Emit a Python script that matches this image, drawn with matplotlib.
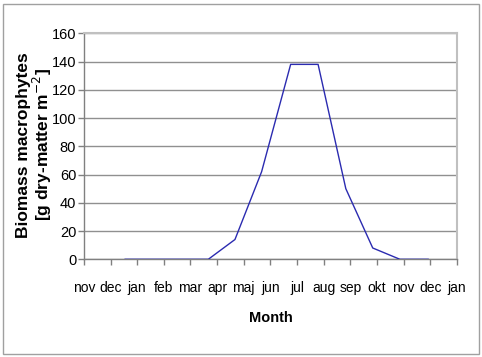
import matplotlib.pyplot as plt
from matplotlib.patches import Rectangle

# Month tick labels (one per tick on the category axis)
months = ['nov', 'dec', 'jan', 'feb', 'mar', 'apr', 'maj', 'jun',
          'jul', 'aug', 'sep', 'okt', 'nov', 'dec', 'jan']

# Sampling positions (in month units from the first tick) and biomass
sample_pos = [1.55, 2.6, 3.62, 4.67, 5.67, 6.67, 7.76, 8.79, 9.83, 10.84, 11.86, 12.92]
biomass = [0, 0, 0, 0, 14, 62, 138, 138, 50, 8, 0, 0]

yticks = [0, 20, 40, 60, 80, 100, 120, 140, 160]

plt.rcParams['font.family'] = ['Liberation Sans', 'DejaVu Sans']

fig = plt.figure(figsize=(4.82, 3.57), dpi=100)
# outer chart border
fig.patches.append(Rectangle((0.006, 0.008), 0.988, 0.982, transform=fig.transFigure,
                             facecolor='none', edgecolor='#a0a0a0', linewidth=1.0, zorder=-1))

ax = fig.add_axes([0.174, 0.2737, 0.774, 0.633])
ax.plot(sample_pos, biomass, color='#2b2bb0', linewidth=1.0, zorder=3)

ax.set_xlim(0, len(months) - 1)
ax.set_ylim(0, 160)
ax.set_xticks(range(len(months)))
ax.set_xticklabels(months, fontsize=10)
ax.set_yticks(yticks)
ax.set_yticklabels([str(v) for v in yticks], fontsize=10.5)
ax.yaxis.grid(True, color='#909090', linewidth=1.0)
ax.set_axisbelow(True)

for s in ['top', 'right']:
    ax.spines[s].set_color('#c0c0c0')
    ax.spines[s].set_linewidth(1.5)
for s in ['left', 'bottom']:
    ax.spines[s].set_color('#808080')
    ax.spines[s].set_linewidth(1.0)
ax.tick_params(axis='both', direction='out', length=4.5, color='#808080', width=1.0)
ax.tick_params(axis='x', pad=11)
ax.tick_params(axis='y', pad=1)

ax.set_xlabel('Month', fontsize=10.5, fontweight='bold', labelpad=12)
fig.text(0.072, 0.594, 'Biomass macrophytes\n[g dry-matter m$^{-2}$]', rotation=90,
         ha='center', va='center', multialignment='center', linespacing=1.0,
         fontsize=12.5, fontweight='bold')

fig.savefig('out.png', dpi=100)
